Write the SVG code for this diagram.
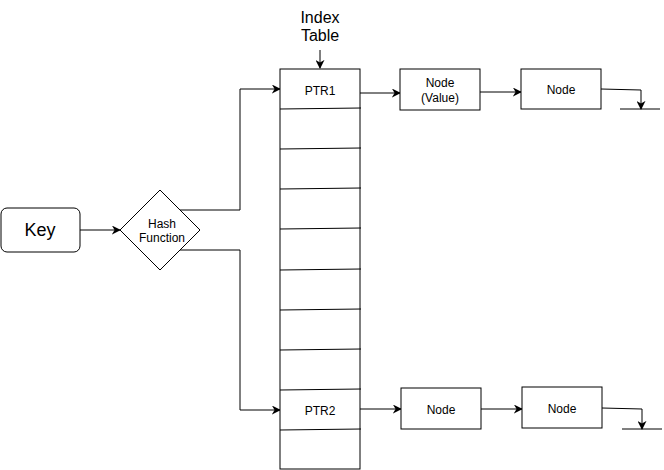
<svg xmlns="http://www.w3.org/2000/svg" width="664" height="470" viewBox="0 0 664 470">
<style>
.s{fill:#fff;stroke:#000;stroke-width:1}
.l{fill:none;stroke:#000;stroke-width:1}
.t{font-family:"Liberation Sans",Arial,sans-serif;fill:#000;text-anchor:middle}
</style>
<defs>
<marker id="a" viewBox="0 0 10 10" refX="9" refY="5" markerWidth="9" markerHeight="9" markerUnits="userSpaceOnUse" orient="auto">
<path d="M0,0 L10,5 L0,10 L3,5 Z" fill="#000"/>
</marker>
</defs>
<rect width="664" height="470" fill="#fff"/>
<g id="connectors">
<path class="l" d="M80,230 L120,230" marker-end="url(#a)"/>
<path class="l" d="M180,210 L240,210 L240,89 L280,89" marker-end="url(#a)"/>
<path class="l" d="M180,250 L240,250 L240,410 L280,410" marker-end="url(#a)"/>
<path class="l" d="M320,50 L320,68" marker-end="url(#a)"/>
<path class="l" d="M360,93 L400,93" marker-end="url(#a)"/>
<path class="l" d="M480,92 L521,92" marker-end="url(#a)"/>
<path class="l" d="M601,89 L641,90 L641,109" marker-end="url(#a)"/>
<path class="l" d="M620,109 L660,109"/>
<path class="l" d="M360,409 L401,409" marker-end="url(#a)"/>
<path class="l" d="M481,409 L522,409" marker-end="url(#a)"/>
<path class="l" d="M602,408 L642,409 L642,429" marker-end="url(#a)"/>
<path class="l" d="M622,429 L662,429"/>
</g>
<g id="key">
<rect class="s" x="1" y="208" width="79" height="44" rx="6"/>
<text class="t" x="40" y="236" font-size="18">Key</text>
</g>
<g id="hash">
<path class="s" d="M160,190 L200,230 L160,270 L120,230 Z"/>
<text class="t" x="162" y="228" font-size="12">Hash</text>
<text class="t" x="162" y="242" font-size="12">Function</text>
</g>
<g id="index-label">
<text class="t" x="320" y="23" font-size="16">Index</text>
<text class="t" x="320" y="41" font-size="16">Table</text>
</g>
<g id="index-table">
<rect class="s" x="280" y="69" width="80" height="400"/>
<path class="l" d="M280,109 L361,108 M280,149 L361,148 M280,189 L361,188 M280,229 L361,228 M280,270 L361,269 M280,310 L361,309 M280,350 L361,349 M280,390 L361,389 M280,430 L361,429"/>
<text class="t" x="320" y="95" font-size="12">PTR1</text>
<text class="t" x="320" y="415" font-size="12">PTR2</text>
</g>
<g id="node-value">
<rect class="s" x="400" y="69" width="80" height="41"/>
<text class="t" x="440" y="87" font-size="12">Node</text>
<text class="t" x="440" y="102" font-size="12">(Value)</text>
</g>
<g id="node-1b">
<rect class="s" x="521" y="69" width="80" height="40"/>
<text class="t" x="561" y="94" font-size="12">Node</text>
</g>
<g id="node-2a">
<rect class="s" x="401" y="388" width="80" height="41"/>
<text class="t" x="441" y="414" font-size="12">Node</text>
</g>
<g id="node-2b">
<rect class="s" x="522" y="387" width="80" height="41"/>
<text class="t" x="562" y="413" font-size="12">Node</text>
</g>
</svg>
